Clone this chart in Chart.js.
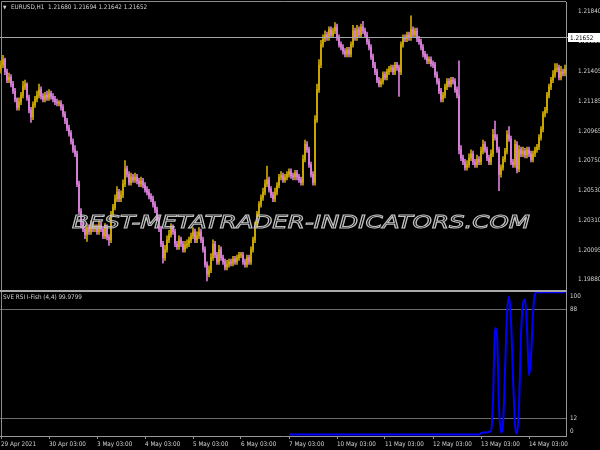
<!DOCTYPE html>
<html>
<head>
<meta charset="utf-8">
<script src="https://cdn.jsdelivr.net/npm/chart.js@4.4.1/dist/chart.umd.min.js"></script>
<style>
html, body { margin: 0; padding: 0; background: #000; }
#wrap { position: relative; width: 600px; height: 450px; overflow: hidden; background: #000; }
#priceCanvas { position: absolute; left: 0; top: 0; }
#fishCanvas { position: absolute; left: 0; top: 290px; }
.lbl { position: absolute; font-family: "Liberation Sans Narrow", "DejaVu Sans Condensed", sans-serif; font-size: 6.3px; line-height: 10px; color: #d4d4d4; white-space: nowrap; }
#mark { position: absolute; left: 72px; top: 212px; font: italic 18px "DejaVu Sans", sans-serif; line-height: 20px; color: transparent; -webkit-text-stroke: 1px #c0c0c0; white-space: nowrap; transform-origin: 0 0; }
</style>
</head>
<body>
<div id="wrap">
  <canvas id="priceCanvas" width="600" height="290"></canvas>
  <canvas id="fishCanvas" width="600" height="160"></canvas>
  <div class="lbl" style="left:3px;top:2px;font-size:5px;">▼</div>
  <div class="lbl" style="left:11px;top:2px;">EURUSD,H1&nbsp; 1.21680 1.21694 1.21642 1.21652</div>
  <div class="lbl" style="left:3px;top:292px;">SVE RSI I-Fish (4,4) 99.9799</div>
  <div id="mark">BEST-METATRADER-INDICATORS.COM</div>
</div>
<script>
// --- datos EURUSD H1 (29 Apr - 14 May 2021) ---
const closes = [
  1.2145,1.2149,1.2140,1.2134,1.2136,1.2131,1.2126,1.2120,1.2114,1.2118,
  1.2123,1.2129,1.2131,1.2121,1.2112,1.2107,1.2116,1.2120,1.2123,1.2127,
  1.2122,1.2120,1.2123,1.2121,1.2124,1.2122,1.2120,1.2118,1.2117,1.2117,
  1.2114,1.2109,1.2104,1.2099,1.2095,1.2089,1.2083,1.2080,1.2058,1.2038,
  1.2028,1.2025,1.2021,1.2026,1.2023,1.2028,1.2025,1.2026,1.2023,1.2028,
  1.2025,1.2020,1.2026,1.2019,1.2017,1.2036,1.2041,1.2047,1.2052,1.2047,
  1.2050,1.2058,1.2069,1.2065,1.2059,1.2063,1.2061,1.2063,1.2060,1.2058,
  1.2060,1.2057,1.2054,1.2052,1.2049,1.2047,1.2043,1.2039,1.2033,1.2025,
  1.2014,1.2004,1.2010,1.2017,1.2021,1.2026,1.2023,1.2014,1.2012,1.2017,
  1.2014,1.2010,1.2013,1.2014,1.2017,1.2020,1.2023,1.2017,1.2020,1.2023,
  1.2017,1.2010,1.1999,1.1992,1.1995,1.2004,1.2014,1.2006,1.2001,1.2010,
  1.2004,1.2001,1.1997,1.1999,1.2001,1.2000,1.2003,1.2001,1.2004,1.2006,
  1.2006,1.2001,1.1999,1.2004,1.2001,1.2010,1.2017,1.2028,1.2036,1.2043,
  1.2048,1.2052,1.2058,1.2061,1.2054,1.2050,1.2047,1.2052,1.2057,1.2063,
  1.2064,1.2061,1.2063,1.2065,1.2067,1.2064,1.2063,1.2066,1.2063,1.2061,
  1.2059,1.2076,1.2087,1.2083,1.2072,1.2065,1.2059,1.2105,1.2127,1.2145,
  1.2160,1.2164,1.2167,1.2165,1.2171,1.2167,1.2170,1.2173,1.2165,1.2160,
  1.2158,1.2155,1.2153,1.2156,1.2153,1.2160,1.2170,1.2165,1.2171,1.2167,
  1.2173,1.2170,1.2167,1.2162,1.2158,1.2151,1.2145,1.2140,1.2134,1.2131,
  1.2133,1.2138,1.2136,1.2140,1.2142,1.2143,1.2140,1.2145,1.2143,1.2140,
  1.2160,1.2165,1.2164,1.2167,1.2165,1.2171,1.2167,1.2170,1.2164,1.2162,
  1.2158,1.2153,1.2151,1.2148,1.2149,1.2146,1.2145,1.2138,1.2133,1.2126,
  1.2120,1.2123,1.2129,1.2133,1.2131,1.2134,1.2133,1.2127,1.2123,1.2083,
  1.2077,1.2074,1.2070,1.2072,1.2077,1.2080,1.2074,1.2072,1.2076,1.2074,
  1.2082,1.2087,1.2083,1.2077,1.2074,1.2080,1.2094,1.2092,1.2083,1.2065,
  1.2070,1.2076,1.2082,1.2094,1.2091,1.2074,1.2072,1.2087,1.2069,1.2083,
  1.2080,1.2082,1.2079,1.2083,1.2080,1.2076,1.2080,1.2083,1.2085,1.2092,
  1.2098,1.2109,1.2112,1.2123,1.2129,1.2134,1.2138,1.2142,1.2143,1.2136,
  1.2140,1.2139,1.2142
];
const opens = [
  1.2142,1.2145,1.2149,1.2140,1.2134,1.2136,1.2131,1.2126,1.2120,1.2114,
  1.2118,1.2123,1.2129,1.2131,1.2121,1.2112,1.2107,1.2116,1.2120,1.2123,
  1.2127,1.2122,1.2120,1.2123,1.2121,1.2124,1.2122,1.2120,1.2118,1.2117,
  1.2117,1.2114,1.2109,1.2104,1.2099,1.2095,1.2089,1.2083,1.2080,1.2058,
  1.2038,1.2028,1.2025,1.2021,1.2026,1.2023,1.2028,1.2025,1.2026,1.2023,
  1.2028,1.2025,1.2020,1.2026,1.2019,1.2017,1.2036,1.2041,1.2047,1.2052,
  1.2047,1.2050,1.2058,1.2069,1.2065,1.2059,1.2063,1.2061,1.2063,1.2060,
  1.2058,1.2060,1.2057,1.2054,1.2052,1.2049,1.2047,1.2043,1.2039,1.2033,
  1.2025,1.2014,1.2004,1.2010,1.2017,1.2021,1.2026,1.2023,1.2014,1.2012,
  1.2017,1.2014,1.2010,1.2013,1.2014,1.2017,1.2020,1.2023,1.2017,1.2020,
  1.2023,1.2017,1.2010,1.1999,1.1992,1.1995,1.2004,1.2014,1.2006,1.2001,
  1.2010,1.2004,1.2001,1.1997,1.1999,1.2001,1.2000,1.2003,1.2001,1.2004,
  1.2006,1.2006,1.2001,1.1999,1.2004,1.2001,1.2010,1.2017,1.2028,1.2036,
  1.2043,1.2048,1.2052,1.2058,1.2061,1.2054,1.2050,1.2047,1.2052,1.2057,
  1.2063,1.2064,1.2061,1.2063,1.2065,1.2067,1.2064,1.2063,1.2066,1.2063,
  1.2061,1.2059,1.2076,1.2087,1.2083,1.2072,1.2065,1.2059,1.2105,1.2127,
  1.2145,1.2160,1.2164,1.2167,1.2165,1.2171,1.2167,1.2170,1.2173,1.2165,
  1.2160,1.2158,1.2155,1.2153,1.2156,1.2153,1.2160,1.2170,1.2165,1.2171,
  1.2167,1.2173,1.2170,1.2167,1.2162,1.2158,1.2151,1.2145,1.2140,1.2134,
  1.2131,1.2133,1.2138,1.2136,1.2140,1.2142,1.2143,1.2140,1.2145,1.2143,
  1.2140,1.2160,1.2165,1.2164,1.2167,1.2165,1.2171,1.2167,1.2170,1.2164,
  1.2162,1.2158,1.2153,1.2151,1.2148,1.2149,1.2146,1.2145,1.2138,1.2133,
  1.2126,1.2120,1.2123,1.2129,1.2133,1.2131,1.2134,1.2133,1.2127,1.2123,
  1.2083,1.2077,1.2074,1.2070,1.2072,1.2077,1.2080,1.2074,1.2072,1.2076,
  1.2074,1.2082,1.2087,1.2083,1.2077,1.2074,1.2080,1.2094,1.2092,1.2083,
  1.2065,1.2070,1.2076,1.2082,1.2094,1.2091,1.2074,1.2072,1.2087,1.2069,
  1.2083,1.2080,1.2082,1.2079,1.2083,1.2080,1.2076,1.2080,1.2083,1.2085,
  1.2092,1.2098,1.2109,1.2112,1.2123,1.2129,1.2134,1.2138,1.2142,1.2143,
  1.2136,1.2140,1.2139
];
const highs = [
  1.2148,1.2152,1.2150,1.2142,1.2139,1.2138,1.2133,1.2128,1.2121,1.2121,
  1.2125,1.2133,1.2134,1.2132,1.2123,1.2114,1.2118,1.2122,1.2126,1.2131,
  1.2129,1.2124,1.2125,1.2126,1.2127,1.2126,1.2124,1.2122,1.2120,1.2119,
  1.2119,1.2116,1.2111,1.2106,1.2101,1.2097,1.2091,1.2086,1.2082,1.2060,
  1.2040,1.2031,1.2027,1.2029,1.2028,1.2031,1.2030,1.2028,1.2028,1.2031,
  1.2030,1.2027,1.2029,1.2028,1.2021,1.2038,1.2043,1.2050,1.2056,1.2054,
  1.2053,1.2061,1.2075,1.2071,1.2067,1.2066,1.2065,1.2066,1.2065,1.2062,
  1.2063,1.2062,1.2059,1.2056,1.2054,1.2051,1.2049,1.2045,1.2041,1.2035,
  1.2027,1.2016,1.2013,1.2020,1.2024,1.2029,1.2028,1.2025,1.2016,1.2020,
  1.2019,1.2016,1.2016,1.2017,1.2019,1.2022,1.2026,1.2025,1.2023,1.2026,
  1.2025,1.2019,1.2012,1.2001,1.1998,1.2007,1.2017,1.2016,1.2008,1.2013,
  1.2012,1.2006,1.2003,1.2002,1.2003,1.2003,1.2005,1.2005,1.2006,1.2008,
  1.2008,1.2008,1.2003,1.2006,1.2006,1.2012,1.2019,1.2030,1.2038,1.2045,
  1.2050,1.2055,1.2061,1.2071,1.2063,1.2056,1.2052,1.2055,1.2059,1.2065,
  1.2067,1.2066,1.2065,1.2067,1.2069,1.2069,1.2066,1.2068,1.2068,1.2065,
  1.2063,1.2079,1.2090,1.2089,1.2085,1.2074,1.2067,1.2108,1.2131,1.2149,
  1.2163,1.2167,1.2170,1.2169,1.2173,1.2173,1.2172,1.2176,1.2175,1.2167,
  1.2162,1.2160,1.2157,1.2158,1.2158,1.2162,1.2174,1.2172,1.2174,1.2173,
  1.2175,1.2177,1.2172,1.2169,1.2164,1.2160,1.2153,1.2147,1.2142,1.2136,
  1.2135,1.2140,1.2140,1.2142,1.2144,1.2145,1.2145,1.2147,1.2147,1.2145,
  1.2162,1.2167,1.2167,1.2169,1.2169,1.2181,1.2173,1.2172,1.2172,1.2166,
  1.2164,1.2160,1.2155,1.2153,1.2151,1.2151,1.2148,1.2147,1.2140,1.2135,
  1.2128,1.2125,1.2131,1.2135,1.2135,1.2136,1.2136,1.2135,1.2129,1.2148,
  1.2086,1.2079,1.2076,1.2075,1.2080,1.2083,1.2082,1.2076,1.2079,1.2078,
  1.2085,1.2090,1.2089,1.2085,1.2079,1.2083,1.2098,1.2104,1.2094,1.2085,
  1.2072,1.2078,1.2084,1.2097,1.2100,1.2093,1.2076,1.2090,1.2089,1.2086,
  1.2085,1.2085,1.2084,1.2085,1.2085,1.2082,1.2082,1.2085,1.2087,1.2094,
  1.2100,1.2111,1.2114,1.2125,1.2131,1.2136,1.2141,1.2146,1.2146,1.2145,
  1.2144,1.2142,1.2145
];
const lows = [
  1.2139,1.2143,1.2138,1.2132,1.2132,1.2129,1.2124,1.2118,1.2112,1.2112,
  1.2116,1.2121,1.2127,1.2119,1.2110,1.2103,1.2105,1.2114,1.2118,1.2121,
  1.2120,1.2118,1.2118,1.2119,1.2119,1.2120,1.2118,1.2116,1.2115,1.2115,
  1.2112,1.2107,1.2102,1.2097,1.2093,1.2087,1.2081,1.2078,1.2056,1.2036,
  1.2026,1.2023,1.2018,1.2016,1.2021,1.2021,1.2023,1.2023,1.2021,1.2021,
  1.2023,1.2018,1.2018,1.2017,1.2013,1.2015,1.2034,1.2039,1.2045,1.2045,
  1.2045,1.2048,1.2056,1.2063,1.2057,1.2057,1.2059,1.2059,1.2058,1.2056,
  1.2056,1.2055,1.2052,1.2050,1.2047,1.2045,1.2041,1.2037,1.2031,1.2023,
  1.2012,1.2000,1.2002,1.2008,1.2015,1.2019,1.2021,1.2012,1.2010,1.2010,
  1.2012,1.2008,1.2008,1.2011,1.2012,1.2015,1.2018,1.2015,1.2015,1.2018,
  1.2015,1.2008,1.1997,1.1987,1.1990,1.1993,1.2002,1.2004,1.1999,1.1999,
  1.2002,1.1999,1.1995,1.1995,1.1997,1.1998,1.1998,1.1999,1.1999,1.2002,
  1.2004,1.1999,1.1997,1.1997,1.1999,1.1999,1.2008,1.2015,1.2026,1.2034,
  1.2041,1.2046,1.2050,1.2056,1.2052,1.2048,1.2045,1.2045,1.2050,1.2055,
  1.2061,1.2059,1.2059,1.2061,1.2063,1.2062,1.2061,1.2061,1.2061,1.2059,
  1.2057,1.2057,1.2074,1.2081,1.2070,1.2063,1.2057,1.2057,1.2103,1.2125,
  1.2143,1.2158,1.2162,1.2163,1.2163,1.2165,1.2165,1.2168,1.2163,1.2158,
  1.2156,1.2153,1.2151,1.2151,1.2151,1.2151,1.2158,1.2163,1.2163,1.2165,
  1.2165,1.2168,1.2165,1.2160,1.2156,1.2149,1.2143,1.2138,1.2132,1.2129,
  1.2129,1.2131,1.2134,1.2134,1.2138,1.2140,1.2138,1.2138,1.2141,1.2122,
  1.2138,1.2158,1.2162,1.2162,1.2163,1.2163,1.2165,1.2165,1.2162,1.2160,
  1.2156,1.2151,1.2149,1.2146,1.2146,1.2144,1.2143,1.2136,1.2131,1.2124,
  1.2118,1.2118,1.2121,1.2127,1.2129,1.2129,1.2131,1.2125,1.2121,1.2080,
  1.2075,1.2072,1.2068,1.2068,1.2070,1.2075,1.2072,1.2070,1.2070,1.2072,
  1.2072,1.2080,1.2081,1.2075,1.2072,1.2072,1.2078,1.2090,1.2081,1.2053,
  1.2063,1.2068,1.2074,1.2080,1.2089,1.2072,1.2070,1.2070,1.2066,1.2067,
  1.2078,1.2078,1.2077,1.2077,1.2078,1.2074,1.2074,1.2078,1.2081,1.2083,
  1.2090,1.2096,1.2107,1.2110,1.2121,1.2127,1.2132,1.2136,1.2140,1.2134,
  1.2134,1.2137,1.2137
];
// SVE RSI I-Fish (4,4)
const fishValues = [
  null,null,null,null,null,null,null,null,null,null,null,null,
  null,null,null,null,null,null,null,null,null,null,null,null,
  null,null,null,null,null,null,null,null,null,null,null,null,
  null,null,null,null,null,null,null,null,null,null,null,null,
  null,null,null,null,null,null,null,null,null,null,null,null,
  null,null,null,null,null,null,null,null,null,null,null,null,
  null,null,null,null,null,null,null,null,null,null,null,null,
  null,null,null,null,null,null,null,null,null,null,null,null,
  null,null,null,null,null,null,null,null,null,null,null,null,
  null,null,null,null,null,null,null,null,null,null,null,null,
  null,null,null,null,null,null,null,null,null,null,null,null,
  null,null,null,null,null,null,null,null,null,null,null,null,
  0.5,0.5,0.5,0.5,0.5,0.5,0.5,0.5,0.5,0.5,0.5,0.5,
  0.5,0.5,0.5,0.5,0.5,0.5,0.5,0.5,0.5,0.5,0.5,0.5,
  0.5,0.5,0.5,0.5,0.5,0.5,0.5,0.5,0.5,0.5,0.5,0.5,
  0.5,0.5,0.5,0.5,0.5,0.5,0.5,0.5,0.5,0.5,0.5,0.5,
  0.5,0.5,0.5,0.5,0.5,0.5,0.5,0.5,0.5,0.5,0.5,0.5,
  0.5,0.5,0.5,0.5,0.5,0.5,0.5,0.5,0.5,0.5,0.5,0.5,
  0.5,0.5,0.5,0.5,0.5,0.5,0.5,0.5,0.5,0.5,0.5,0.5,
  0.5,0.5,0.5,0.5,0.5,0.5,0.5,0.5,0.5,0.5,0.5,0.5,
  1.5,2,2,2,2.5,3,25,75,70,20,2,8,45,85,97,80,40,8,1,20,70,92,95,75,42,55,85,99,
  99.98,99.98,99.98,99.98,99.98,99.98,99.98,99.98,99.98,99.98,99.98,99.98,99.98,99.98,99.98
];
const dayTickIndex = [0, 24, 48, 72, 96, 120, 144, 168, 192, 216, 240, 264];
const dayLabels = ['29 Apr 2021', '30 Apr 03:00', '3 May 03:00', '4 May 03:00', '5 May 03:00', '6 May 03:00',
                   '7 May 03:00', '10 May 03:00', '11 May 03:00', '12 May 03:00', '13 May 03:00', '14 May 03:00'];
const priceTicks = [1.21840, 1.21620, 1.21405, 1.21185, 1.20965, 1.20750, 1.20530, 1.20310, 1.20095, 1.19880];
const levelTicks = [100, 88, 12, 0];
const levelLines = [88, 12];
const bidPrice = 1.21652;

if (opens.length !== closes.length || highs.length !== closes.length || lows.length !== closes.length || fishValues.length !== closes.length) {
    console.error('longitudes', closes.length, opens.length, highs.length, lows.length, fishValues.length);
}

const FONT = '"Liberation Sans Narrow", "DejaVu Sans Condensed", sans-serif';
const FSIZE = 6.3;
const TXT = '#d4d4d4';
const EJE = '#969696';
const ALCISTA = '#c9a600';
const BAJISTA = '#d67ed6';
const AXIS_W = 34;

Chart.defaults.font.family = FONT;
Chart.defaults.font.size = FSIZE;
Chart.defaults.color = TXT;

const barras = closes.map((c, i) => i);
const colorVela = ctx => closes[ctx.dataIndex] >= opens[ctx.dataIndex] ? ALCISTA : BAJISTA;

function fijarEje(scale) {
    scale.width = AXIS_W;
    scale.paddingTop = 0;
    scale.paddingBottom = 0;
}

// --- marcos y linea bid ---
const marcoPrecio = {
    id: 'marcoPrecio',
    afterDraw(chart) {
        const { ctx, chartArea, scales } = chart;
        ctx.save();
        ctx.strokeStyle = '#8c8c8c';
        ctx.lineWidth = 1;
        ctx.beginPath();
        ctx.moveTo(1.5, chart.height);
        ctx.lineTo(1.5, 1.5);
        ctx.lineTo(chartArea.right, 1.5);
        ctx.stroke();

        const y = Math.round(scales.y.getPixelForValue(bidPrice)) + 0.5;
        ctx.strokeStyle = '#a6a6a6';
        ctx.beginPath();
        ctx.moveTo(chartArea.left, y);
        ctx.lineTo(chartArea.right + 2, y);
        ctx.stroke();
        ctx.fillStyle = '#ffffff';
        ctx.fillRect(chartArea.right + 2, y - 4.5, chart.width - chartArea.right - 2, 9);
        ctx.fillStyle = '#000000';
        ctx.font = FSIZE + 'px ' + FONT;
        ctx.textBaseline = 'middle';
        ctx.fillText(bidPrice.toFixed(5), chartArea.right + 4, y + 0.5);
        ctx.restore();
    }
};

const marcoFish = {
    id: 'marcoFish',
    afterDraw(chart) {
        const { ctx, chartArea } = chart;
        ctx.save();
        ctx.fillStyle = '#a8a8a8';
        ctx.fillRect(0, 0, chartArea.right + 1, 2);
        ctx.strokeStyle = '#8c8c8c';
        ctx.lineWidth = 1;
        ctx.beginPath();
        ctx.moveTo(1.5, 2);
        ctx.lineTo(1.5, chartArea.bottom);
        ctx.stroke();
        ctx.restore();
    }
};

// --- grafica de precio (velas) ---
new Chart(document.getElementById('priceCanvas'), {
    type: 'bar',
    data: {
        labels: barras,
        datasets: [
            {
                label: 'mechas',
                data: lows.map((l, i) => [l, highs[i]]),
                backgroundColor: colorVela,
                barThickness: 1,
                grouped: false,
                order: 2
            },
            {
                label: 'cuerpos',
                data: opens.map((o, i) => [o, closes[i]]),
                backgroundColor: colorVela,
                barThickness: 1.3,
                minBarLength: 1,
                grouped: false,
                order: 1
            }
        ]
    },
    options: {
        responsive: false,
        animation: false,
        layout: { padding: { top: 2, bottom: 1, left: 0, right: 0 } },
        plugins: { legend: { display: false }, tooltip: { enabled: false } },
        scales: {
            x: { display: false, offset: true },
            y: {
                position: 'right',
                min: 1.19811,
                max: 1.21911,
                afterBuildTicks: scale => { scale.ticks = priceTicks.map(v => ({ value: v })); },
                afterFit: fijarEje,
                grid: { display: false },
                border: { display: true, color: EJE },
                ticks: { padding: 4, color: TXT, callback: v => v.toFixed(5) }
            }
        }
    },
    plugins: [marcoPrecio]
});

// --- indicador SVE RSI I-Fish ---
new Chart(document.getElementById('fishCanvas'), {
    type: 'line',
    data: {
        labels: barras,
        datasets: [{
            label: 'SVE RSI I-Fish',
            data: fishValues,
            borderColor: '#0000ff',
            borderWidth: 2,
            pointRadius: 0,
            cubicInterpolationMode: 'monotone',
            clip: 4
        }]
    },
    options: {
        responsive: false,
        animation: false,
        layout: { padding: { top: 2, bottom: 0, left: 0, right: 0 } },
        plugins: { legend: { display: false }, tooltip: { enabled: false } },
        scales: {
            x: {
                offset: true,
                afterBuildTicks: scale => { scale.ticks = dayTickIndex.map(v => ({ value: v })); },
                afterFit: scale => { scale.height = 14; scale.paddingLeft = 0; scale.paddingRight = 0; },
                grid: { display: true, drawOnChartArea: false, drawTicks: true, tickLength: 3, color: EJE },
                border: { display: true, color: EJE },
                ticks: {
                    autoSkip: false, maxRotation: 0, align: 'start', padding: 2, color: TXT,
                    callback: v => dayLabels[dayTickIndex.indexOf(v)]
                }
            },
            y: {
                position: 'right',
                min: -0.5,
                max: 100.2,
                afterBuildTicks: scale => { scale.ticks = levelTicks.map(v => ({ value: v })); },
                afterFit: fijarEje,
                grid: {
                    drawTicks: false,
                    color: ctx => ctx.tick && levelLines.includes(ctx.tick.value) ? '#6c6c6c' : 'rgba(0,0,0,0)'
                },
                border: { display: true, color: EJE },
                ticks: {
                    padding: 4, color: TXT,
                    callback: v => v === 100 ? ['', '100'] : (v === 0 ? ['0', ''] : String(v))
                }
            }
        }
    },
    plugins: [marcoFish]
});

// marca de agua estirada al ancho original
const mark = document.getElementById('mark');
mark.style.transform = 'scaleX(' + (458 / mark.offsetWidth) + ')';
</script>
</body>
</html>
